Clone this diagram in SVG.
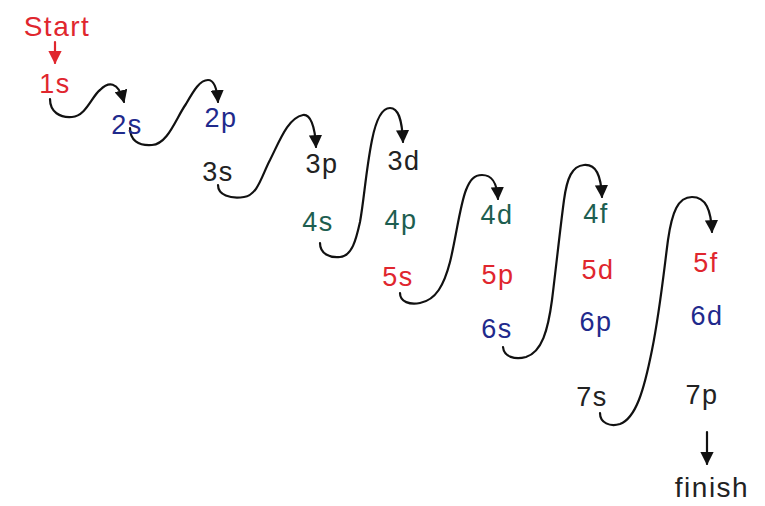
<svg xmlns="http://www.w3.org/2000/svg" width="765" height="506" viewBox="0 0 765 506">
<defs>
<marker id="ah" viewBox="0 0 10 10" refX="9" refY="5" markerWidth="6" markerHeight="6" orient="auto" markerUnits="strokeWidth">
<path d="M0,0 L10,5 L0,10 Z" fill="#111"/>
</marker>
<marker id="ahr" viewBox="0 0 10 10" refX="9" refY="5" markerWidth="6" markerHeight="6" orient="auto" markerUnits="strokeWidth">
<path d="M0,0 L10,5 L0,10 Z" fill="#e0262e"/>
</marker>
</defs>
<style>
text{font-family:"Liberation Sans","DejaVu Sans",sans-serif;font-size:27px;text-anchor:middle;letter-spacing:1.5px}
.r{fill:#e0262e}.b{fill:#1f2a8c}.g{fill:#1d5e50}.k{fill:#222}
.c{fill:none;stroke:#111;stroke-width:2.2;stroke-linecap:round;marker-end:url(#ah)}
</style>
<rect width="765" height="506" fill="#fff"/>
<g id="connectors">
<path class="c" style="stroke:#e0262e;marker-end:url(#ahr)" d="M55,42 L55,63"/>
<path class="c" d="M50,99 C50,112 60,118 72,117 C86,116 92,96 100,90 C108,82 118,80 124,102"/>
<path class="c" d="M130,128 C130,140 138,146 152,145 C168,144 176,118 186,104 C194,90 200,80 208,80 C214,80 217,88 218,102"/>
<path class="c" d="M218,185 C218,195 230,199 244,197 C258,195 262,175 270,160 C280,140 288,118 303,115 C310,114 315,125 316,147"/>
<path class="c" d="M320,243 C320,254 330,258 340,257 C352,256 356,240 360,222 C364,200 366,170 372,140 C376,120 382,108 390,108 C398,108 402,118 403,142"/>
<path class="c" d="M400,293 C400,302 410,305 420,303 C436,300 444,285 450,262 C456,238 460,205 466,190 C470,180 474,175 482,175 C492,175 497,182 498,199"/>
<path class="c" d="M503,347 C504,357 515,360 526,357 C542,352 548,330 552,300 C556,268 560,230 564,200 C567,178 572,166 584,165 C596,164 601,175 602,197"/>
<path class="c" d="M600,413 C600,423 610,427 620,424 C636,418 644,390 652,350 C660,310 664,270 668,240 C672,212 678,197 692,197 C706,197 711,210 712,232"/>
<path class="c" d="M707,432 L707,464"/>
</g>
<g id="start"><text class="r" x="57" y="36" style="font-size:28px">Start</text></g>
<g id="n1s"><text class="r" x="55" y="93">1s</text></g>
<g id="n2s"><text class="b" x="127" y="134">2s</text></g>
<g id="n2p"><text class="b" x="221" y="127">2p</text></g>
<g id="n3s"><text class="k" x="218" y="181">3s</text></g>
<g id="n3p"><text class="k" x="322" y="173">3p</text></g>
<g id="n3d"><text class="k" x="404" y="170">3d</text></g>
<g id="n4s"><text class="g" x="318" y="231">4s</text></g>
<g id="n4p"><text class="g" x="401" y="229">4p</text></g>
<g id="n4d"><text class="g" x="497" y="224">4d</text></g>
<g id="n4f"><text class="g" x="596" y="223">4f</text></g>
<g id="n5s"><text class="r" x="398" y="286">5s</text></g>
<g id="n5p"><text class="r" x="498" y="284">5p</text></g>
<g id="n5d"><text class="r" x="598" y="279">5d</text></g>
<g id="n5f"><text class="r" x="706" y="272">5f</text></g>
<g id="n6s"><text class="b" x="497" y="338">6s</text></g>
<g id="n6p"><text class="b" x="596" y="331">6p</text></g>
<g id="n6d"><text class="b" x="707" y="325">6d</text></g>
<g id="n7s"><text class="k" x="592" y="406">7s</text></g>
<g id="n7p"><text class="k" x="702" y="404">7p</text></g>
<g id="finish"><text class="k" x="712" y="497" style="font-size:28px">finish</text></g>
</svg>
